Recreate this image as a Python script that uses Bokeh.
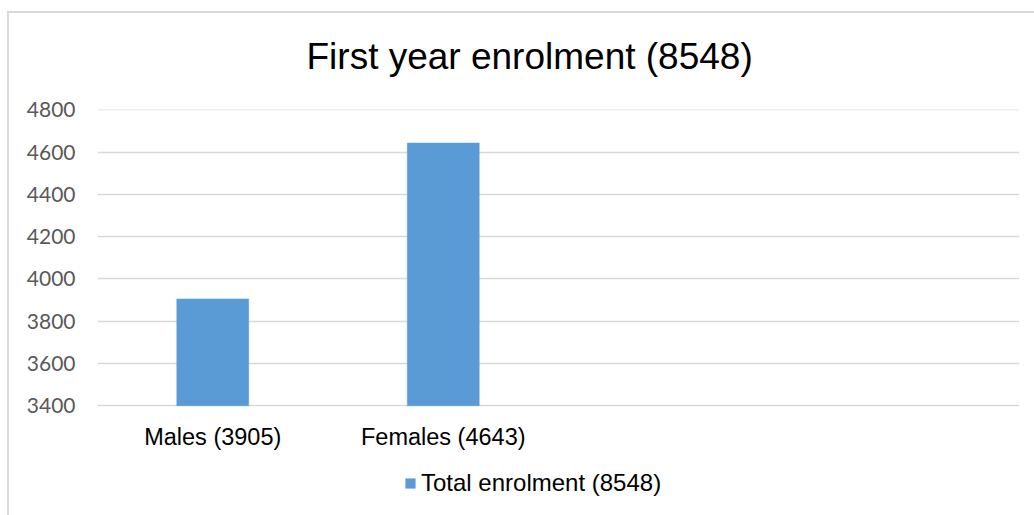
from bokeh.plotting import figure
from bokeh.models import Range1d, FixedTicker, ColumnDataSource, Legend, LegendItem
from bokeh.core.properties import value
from bokeh.embed import file_html
from bokeh.resources import INLINE

try:
    from bokeh.models import GlobalInlineStyleSheet
    page_sheets = [GlobalInlineStyleSheet(css="html, body { overflow: hidden; margin: 0; }")]
except Exception:
    page_sheets = []

# ---- data ----
categories = ["Males (3905)", "Females (4643)"]
values = [3905, 4643]
series_name = "Total enrolment (8548)"
title_text = "First year enrolment (8548)"
y_ticks = [3400, 3600, 3800, 4000, 4200, 4400, 4600, 4800]
n_slots = 4

BAR = "#5b9bd5"
GRID = "#d9d9d9"

W, H = 1034, 515
left_b, right_b, top_b, bottom_b = 97, 15, 108, 0

# chart-area border lines painted as the page background behind a transparent canvas
bg_styles = {
    "background-color": "white",
    "background-image": f"linear-gradient({GRID},{GRID}), linear-gradient({GRID},{GRID})",
    "background-size": "2px 600px, 1100px 2px",
    "background-position": "7px 11px, 7px 11px",
    "background-repeat": "no-repeat",
}

# the plot frame runs down to the bottom of the chart, so that the category
# labels and the legend (which sit under the 3400 line) are drawn inside it
p = figure(width=W, height=H, output_backend="svg", toolbar_location=None,
           x_range=Range1d(0.5, n_slots + 0.5),
           y_range=Range1d(2880, y_ticks[-1] + 2),
           min_border_left=left_b, min_border_right=right_b,
           min_border_top=top_b, min_border_bottom=bottom_b,
           styles=bg_styles, stylesheets=page_sheets)
p.outline_line_color = None
p.background_fill_color = "white"
p.border_fill_color = None

xs = list(range(1, len(categories) + 1))
src = ColumnDataSource(dict(x=xs, top=values, cat=categories,
                            base=[y_ticks[0]] * len(xs)))
r = p.vbar(x="x", top="top", bottom="base", width=0.312, source=src,
           fill_color=BAR, line_color=BAR, line_width=0.5)

# category labels under the baseline
p.text(x="x", y="base", text="cat", source=src, y_offset=31,
       text_align="center", text_baseline="alphabetic",
       text_font=value("Liberation Sans"), text_font_size="23.5px",
       text_color="#000000")

# axes
p.xaxis.visible = False

p.yaxis.ticker = FixedTicker(ticks=y_ticks)
p.yaxis.axis_line_color = None
p.yaxis.major_tick_line_color = None
p.yaxis.minor_tick_line_color = None
p.yaxis.major_label_text_font = "Lato"
p.yaxis.major_label_text_font_size = "21px"
p.yaxis.major_label_text_color = "#595959"
p.yaxis.major_label_standoff = 16

p.xgrid.grid_line_color = None
p.ygrid.ticker = FixedTicker(ticks=y_ticks)
p.ygrid.grid_line_color = GRID
p.ygrid.grid_line_width = 1.5

# title
p.title.text = title_text
p.title.align = "left"
p.title.offset = 306 - left_b
p.title.standoff = 66
p.title.text_font = "Liberation Sans"
p.title.text_font_size = "37px"
p.title.text_font_style = "normal"
p.title.text_color = "#000000"

# legend
legend = Legend(items=[LegendItem(label=series_name, renderers=[r])],
                location=(404 - left_b, 18), orientation="horizontal",
                glyph_width=12, glyph_height=12, label_standoff=5,
                padding=0, margin=0, border_line_color=None, background_fill_alpha=0,
                label_text_font="Liberation Sans", label_text_font_size="24px",
                label_text_color="#000000")
p.add_layout(legend, "center")

open("out.html", "w").write(file_html(p, INLINE))
